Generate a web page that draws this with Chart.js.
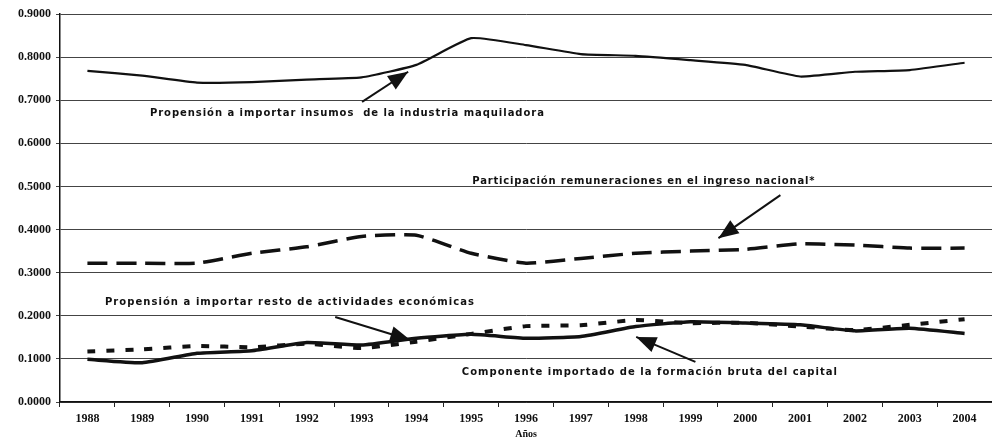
<!DOCTYPE html>
<html>
<head>
<meta charset="utf-8">
<script src="https://cdn.jsdelivr.net/npm/chart.js@4"></script>
<style>
  html, body { margin: 0; padding: 0; background: #fff; }
  #wrap { width: 992px; height: 440px; }
</style>
</head>
<body>
<div id="wrap"><canvas id="chart" width="992" height="440"></canvas></div>
<script>
// años
const years = ['1988', '1989', '1990', '1991', '1992', '1993', '1994', '1995', '1996',
               '1997', '1998', '1999', '2000', '2001', '2002', '2003', '2004'];

// propensión a importar insumos de la industria maquiladora
const maquiladora = [0.768, 0.757, 0.741, 0.742, 0.748, 0.753, 0.782, 0.844, 0.828,
                     0.807, 0.803, 0.793, 0.782, 0.755, 0.766, 0.770, 0.787];

// participación remuneraciones en el ingreso nacional
const remuneraciones = [0.322, 0.322, 0.322, 0.345, 0.360, 0.384, 0.387, 0.345, 0.322,
                        0.333, 0.345, 0.350, 0.354, 0.367, 0.364, 0.357, 0.357];

// propensión a importar resto de actividades económicas
const restoActividades = [0.117, 0.122, 0.130, 0.127, 0.135, 0.125, 0.140, 0.158, 0.176,
                          0.178, 0.190, 0.183, 0.184, 0.175, 0.167, 0.179, 0.192];

// componente importado de la formación bruta del capital
const formacionBruta = [0.099, 0.091, 0.113, 0.119, 0.138, 0.132, 0.148, 0.157, 0.148,
                        0.152, 0.175, 0.186, 0.183, 0.179, 0.165, 0.171, 0.159];

const yTicks = [0, 0.1, 0.2, 0.3, 0.4, 0.5, 0.6, 0.7, 0.8, 0.9];

// textos y flechas (x en índice de categoría, y en valor)
const notas = [
    { text: 'Propensión a importar insumos  de la industria maquiladora', x: 1.14, y: 0.664, w: 395 },
    { text: 'Participación remuneraciones en el ingreso nacional*', x: 7.02, y: 0.506, w: 343 },
    { text: 'Propensión a importar resto de actividades económicas', x: 0.32, y: 0.225, w: 370 },
    { text: 'Componente importado de la formación bruta del capital', x: 6.83, y: 0.0626, w: 376 }
];
const flechas = [
    { x1: 5.01, y1: 0.696, x2: 5.85, y2: 0.766 },
    { x1: 12.64, y1: 0.480, x2: 11.51, y2: 0.380 },
    { x1: 4.52, y1: 0.197, x2: 5.89, y2: 0.144 },
    { x1: 11.09, y1: 0.093, x2: 10.01, y2: 0.151 }
];

// dibujar anotaciones
const notasPlugin = {
    id: 'notas',
    afterDatasetsDraw(chart) {
        const ctx = chart.ctx;
        const xs = chart.scales.x, ys = chart.scales.y;
        ctx.save();
        ctx.fillStyle = '#111';
        ctx.strokeStyle = '#111';
        ctx.font = 'bold 10px "DejaVu Sans", Arial, sans-serif';
        ctx.textBaseline = 'alphabetic';
        notas.forEach(n => {
            ctx.letterSpacing = '0px';
            const natural = ctx.measureText(n.text).width;
            const sp = Math.max(0, (n.w - natural) / n.text.length);
            ctx.letterSpacing = sp.toFixed(2) + 'px';
            ctx.fillText(n.text, xs.getPixelForValue(n.x), ys.getPixelForValue(n.y));
        });
        ctx.letterSpacing = '0px';
        flechas.forEach(f => {
            const x1 = xs.getPixelForValue(f.x1), y1 = ys.getPixelForValue(f.y1);
            const x2 = xs.getPixelForValue(f.x2), y2 = ys.getPixelForValue(f.y2);
            const a = Math.atan2(y2 - y1, x2 - x1);
            ctx.lineWidth = 2;
            ctx.beginPath();
            ctx.moveTo(x1, y1);
            ctx.lineTo(x2, y2);
            ctx.stroke();
            const len = 20, half = 8;
            ctx.beginPath();
            ctx.moveTo(x2, y2);
            ctx.lineTo(x2 - len * Math.cos(a) + half * Math.sin(a), y2 - len * Math.sin(a) - half * Math.cos(a));
            ctx.lineTo(x2 - len * Math.cos(a) - half * Math.sin(a), y2 - len * Math.sin(a) + half * Math.cos(a));
            ctx.closePath();
            ctx.fill();
        });
        ctx.restore();
    }
};

const tickFont = { family: '"Liberation Serif", "Times New Roman", serif', size: 12, weight: 'bold' };

new Chart(document.getElementById('chart'), {
    type: 'line',
    data: {
        labels: years,
        datasets: [
            {
                label: 'Propensión a importar insumos de la industria maquiladora',
                data: maquiladora,
                borderColor: '#111',
                borderWidth: 2.2,
                tension: 0.15
            },
            {
                label: 'Participación remuneraciones en el ingreso nacional*',
                data: remuneraciones,
                borderColor: '#111',
                borderWidth: 3.5,
                borderDash: [20, 9],
                tension: 0.15
            },
            {
                label: 'Propensión a importar resto de actividades económicas',
                data: restoActividades,
                borderColor: '#111',
                borderWidth: 4,
                borderDash: [8, 11],
                tension: 0.15
            },
            {
                label: 'Componente importado de la formación bruta del capital',
                data: formacionBruta,
                borderColor: '#111',
                borderWidth: 3.5,
                tension: 0.15
            }
        ]
    },
    options: {
        responsive: false,
        animation: false,
        layout: { padding: { top: 14, right: 0, left: 0, bottom: 0 } },
        elements: { point: { radius: 0 } },
        plugins: {
            legend: { display: false },
            tooltip: { enabled: false }
        },
        scales: {
            x: {
                offset: true,
                grid: { display: true, offset: true, drawOnChartArea: false, color: '#222', tickLength: 5 },
                border: { color: '#111', width: 1.5 },
                ticks: { color: '#111', font: tickFont, maxRotation: 0, autoSkip: false, padding: 5 },
                title: {
                    display: true,
                    text: 'Años',
                    color: '#111',
                    font: { family: '"Liberation Serif", serif', size: 10, weight: 'bold' },
                    padding: { top: 3, bottom: 0 }
                },
                afterFit(scale) { scale.height = 38; }
            },
            y: {
                min: 0,
                max: 0.9,
                afterBuildTicks(scale) { scale.ticks = yTicks.map(v => ({ value: v })); },
                grid: { color: '#444', lineWidth: 1, tickLength: 4 },
                border: { color: '#111', width: 1.5 },
                ticks: {
                    color: '#111',
                    font: tickFont,
                    padding: 5,
                    callback: v => Number(v).toFixed(4)
                },
                afterFit(scale) { scale.width = 60; }
            }
        }
    },
    plugins: [notasPlugin]
});
</script>
</body>
</html>
